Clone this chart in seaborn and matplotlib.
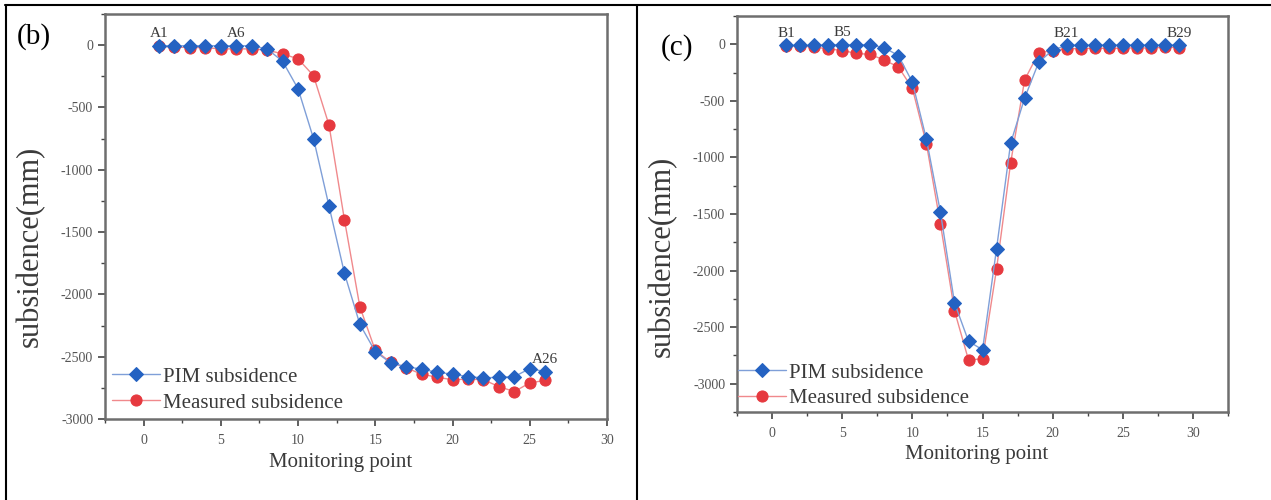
import numpy as np
import pandas as pd
import matplotlib
matplotlib.use("Agg")
import matplotlib.pyplot as plt
import seaborn as sns
from matplotlib.lines import Line2D
from matplotlib.ticker import MultipleLocator

# Panel (b) data, monitoring points A1..A26
points_b = list(range(1, 27))
pim_b = [-5, -5, -5, -5, -5, -5, -5, -30, -130, -350, -750, -1290, -1830, -2240,
         -2460, -2550, -2580, -2600, -2625, -2640, -2660, -2670, -2665, -2660, -2595, -2620]
measured_b = [-10, -15, -20, -20, -30, -30, -30, -40, -70, -110, -245, -640, -1400, -2100,
              -2450, -2545, -2590, -2640, -2665, -2685, -2680, -2685, -2740, -2780, -2710, -2690]

# Panel (c) data, monitoring points B1..B29
points_c = list(range(1, 30))
pim_c = [-10, -10, -10, -5, -5, -5, -5, -30, -100, -335, -840, -1485, -2285, -2625,
         -2700, -1805, -875, -475, -160, -50, -10, -8, -8, -8, -8, -8, -8, -8, -8]
measured_c = [-15, -15, -25, -40, -55, -80, -90, -140, -200, -390, -880, -1590, -2355, -2790,
              -2780, -1985, -1050, -315, -75, -55, -40, -38, -35, -35, -35, -30, -35, -25, -30]

labels_b = {1: "A1", 6: "A6", 26: "A26"}
labels_c = {1: "B1", 5: "B5", 21: "B21", 29: "B29"}

sns.set_style("white")
plt.rcParams['font.family'] = ['Liberation Serif', 'DejaVu Serif']
plt.rcParams['axes.unicode_minus'] = False

blue = "#2462c2"
red = "#e6393f"
blue_line = "#7f9fd8"
red_line = "#f0898c"
text_col = "#3a3a3a"

fig = plt.figure(figsize=(12.71, 5), dpi=100)
ax_b = fig.add_axes([0.0826, 0.162, 0.395, 0.810])
ax_c = fig.add_axes([0.5799, 0.176, 0.3863, 0.792])


def draw_panel(ax, x, pim, meas, ylim, xlim, annots, opts):
    df = pd.DataFrame({"point": x, "PIM subsidence": pim, "Measured subsidence": meas})
    sns.lineplot(data=df, x="point", y="PIM subsidence", ax=ax, color=blue_line, lw=1.0,
                 marker="D", markersize=7.5, markerfacecolor=blue, markeredgecolor=blue,
                 label="PIM subsidence", zorder=3)
    sns.lineplot(data=df, x="point", y="Measured subsidence", ax=ax, color=red_line, lw=1.0,
                 marker="o", markersize=8, markerfacecolor=red, markeredgecolor=red,
                 label="Measured subsidence", zorder=2)
    ax.set_xlim(*xlim)
    ax.set_ylim(*ylim)
    ax.xaxis.set_major_locator(MultipleLocator(5))
    ax.xaxis.set_minor_locator(MultipleLocator(2.5))
    ax.yaxis.set_major_locator(MultipleLocator(500))
    ax.yaxis.set_minor_locator(MultipleLocator(250))
    ax.tick_params(axis="both", which="major", direction="out", length=5, width=1.2,
                   color="#444444", labelsize=10, labelcolor="#555555",
                   bottom=True, left=True, top=False, right=False)
    ax.tick_params(axis="x", which="major", pad=6)
    ax.tick_params(axis="both", which="minor", direction="out", length=3, width=1.0,
                   color="#444444", bottom=True, left=True, top=False, right=False)
    for s in ax.spines.values():
        s.set_visible(True)
        s.set_color("#6e6e6e")
        s.set_linewidth(1.8)
    ax.set_xlabel("Monitoring point", fontsize=15, color=text_col)
    ax.set_ylabel("subsidence(mm)", fontsize=22, color=text_col)
    ax.xaxis.set_label_coords(*opts["xlabel"])
    ax.yaxis.set_label_coords(*opts["ylabel"])
    ax.grid(False)
    for px, txt in annots.items():
        i = x.index(px)
        yv = max(pim[i], meas[i])
        ax.annotate(txt, (px, yv), xytext=(0, 4), textcoords="offset points",
                    ha="center", va="bottom", fontsize=11, color=text_col)
    leg = ax.legend(loc="lower left", frameon=False, fontsize=15, handlelength=2.3,
                    handletextpad=0.15, labelspacing=0.3, borderpad=0, borderaxespad=0,
                    bbox_to_anchor=opts["legend"])
    for t in leg.get_texts():
        t.set_color(text_col)
    fig.text(opts["letter_pos"][0], opts["letter_pos"][1], opts["letter"], fontsize=21,
             ha="left", va="center", color="black")


draw_panel(ax_b, points_b, pim_b, measured_b, (-3000, 250), (-2.5, 30), labels_b,
           {"xlabel": (0.47, -0.084), "ylabel": (-0.12, 0.427), "legend": (0.014, 0.016),
            "letter": "(b)", "letter_pos": (17 / 1271, 0.926)})
draw_panel(ax_c, points_c, pim_c, measured_c, (-3250, 250), (-2.5, 32.5), labels_c,
           {"xlabel": (0.487, -0.083), "ylabel": (-0.122, 0.394), "legend": (0.002, 0.009),
            "letter": "(c)", "letter_pos": (661 / 1271, 0.905)})

# table-like border around the two panels
border = dict(color="black", lw=1.5, transform=fig.transFigure)
fig.add_artist(Line2D([5 / 1271, 1.0], [1 - 4.5 / 500, 1 - 4.5 / 500], **border))
fig.add_artist(Line2D([6 / 1271, 6 / 1271], [0.0, 1 - 4.5 / 500], **border))
fig.add_artist(Line2D([637 / 1271, 637 / 1271], [0.0, 1 - 4.5 / 500], **border))

fig.savefig("out.png", dpi=100)
